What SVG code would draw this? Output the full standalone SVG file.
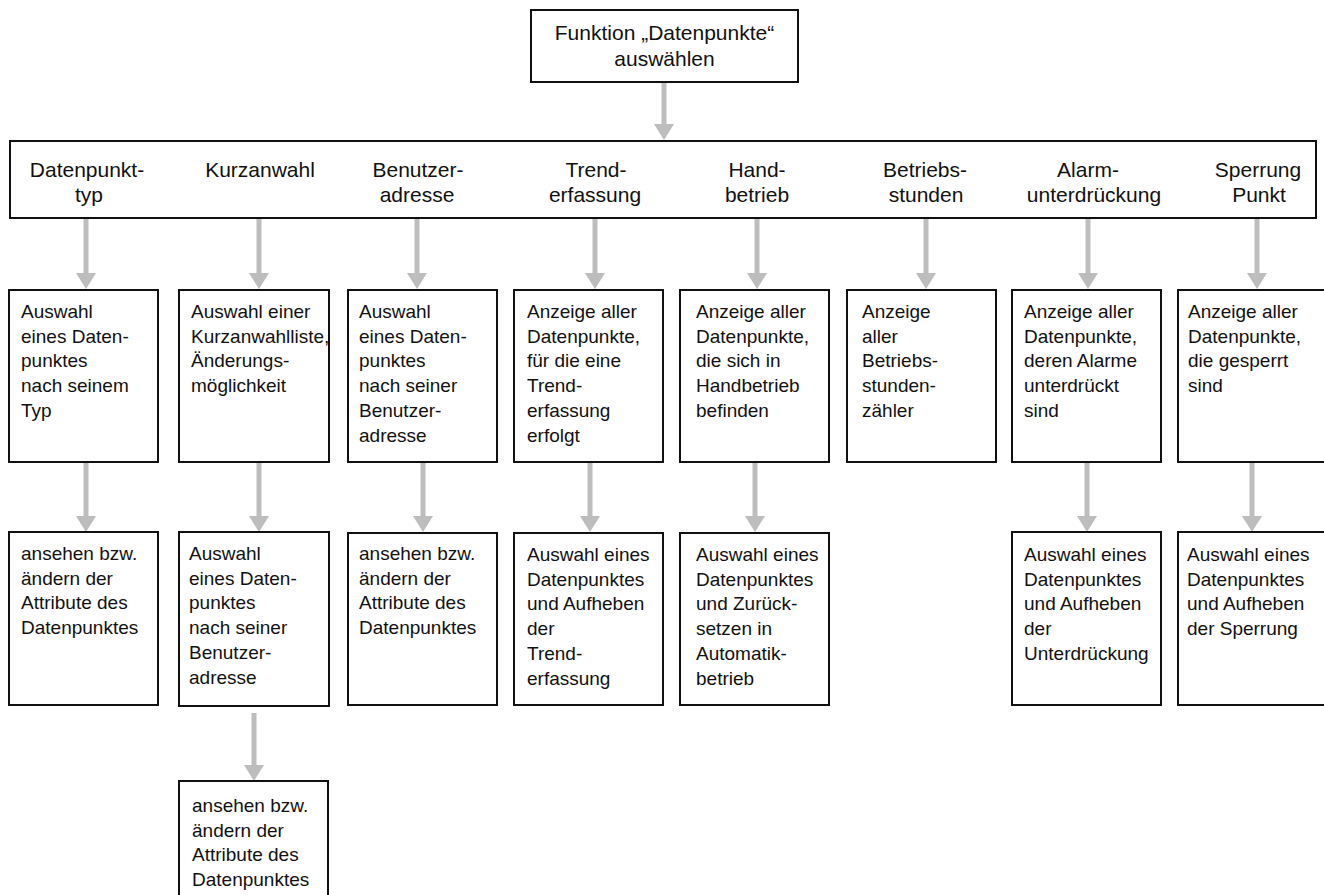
<svg xmlns="http://www.w3.org/2000/svg" width="1324" height="895" viewBox="0 0 1324 895">
<style>
  .box{fill:#fff;stroke:#111;stroke-width:2}
  .hd{font-family:"Liberation Sans",Arial,sans-serif;font-size:21px;fill:#111;text-anchor:middle}
  .tx{font-family:"Liberation Sans",Arial,sans-serif;font-size:19px;fill:#111}
  .arr{stroke:#bdbdbd;stroke-width:5;fill:none;marker-end:url(#ah)}
</style>
<defs>
  <marker id="ah" markerUnits="userSpaceOnUse" viewBox="0 0 16 20" markerWidth="16" markerHeight="20" refX="0" refY="10" orient="auto">
    <path d="M0,0 L16,10 L0,20 Z" fill="#bdbdbd"/>
  </marker>
</defs>
<rect width="1324" height="895" fill="#fff"/>

<g id="connectors">
  <line class="arr" x1="664" y1="82" x2="664" y2="124"/>
  <line class="arr" x1="86" y1="219" x2="86" y2="273"/>
  <line class="arr" x1="259" y1="219" x2="259" y2="273"/>
  <line class="arr" x1="417" y1="219" x2="417" y2="273"/>
  <line class="arr" x1="595" y1="219" x2="595" y2="273"/>
  <line class="arr" x1="757" y1="219" x2="757" y2="273"/>
  <line class="arr" x1="926" y1="219" x2="926" y2="273"/>
  <line class="arr" x1="1088" y1="219" x2="1088" y2="273"/>
  <line class="arr" x1="1257" y1="219" x2="1257" y2="273"/>
  <line class="arr" x1="86" y1="463" x2="86" y2="516"/>
  <line class="arr" x1="259" y1="463" x2="259" y2="516"/>
  <line class="arr" x1="423" y1="463" x2="423" y2="516"/>
  <line class="arr" x1="590" y1="463" x2="590" y2="516"/>
  <line class="arr" x1="755" y1="463" x2="755" y2="516"/>
  <line class="arr" x1="1087" y1="463" x2="1087" y2="516"/>
  <line class="arr" x1="1252" y1="463" x2="1252" y2="516"/>
  <line class="arr" x1="254" y1="713" x2="254" y2="765"/>
</g>

<g id="top">
  <rect class="box" x="531" y="10" width="267" height="72"/>
  <text class="hd"><tspan x="664.5" y="40">Funktion „Datenpunkte“</tspan><tspan x="664.5" y="66">auswählen</tspan></text>
</g>

<g id="menu">
  <rect class="box" x="10" y="141" width="1306" height="77"/>
  <text class="hd"><tspan x="87" y="177">Datenpunkt-</tspan><tspan x="89" y="202">typ</tspan></text>
  <text class="hd"><tspan x="260" y="177">Kurzanwahl</tspan></text>
  <text class="hd"><tspan x="418" y="177">Benutzer-</tspan><tspan x="417" y="202">adresse</tspan></text>
  <text class="hd"><tspan x="596" y="177">Trend-</tspan><tspan x="595" y="202">erfassung</tspan></text>
  <text class="hd"><tspan x="757" y="177">Hand-</tspan><tspan x="757" y="202">betrieb</tspan></text>
  <text class="hd"><tspan x="925" y="177">Betriebs-</tspan><tspan x="926" y="202">stunden</tspan></text>
  <text class="hd"><tspan x="1088" y="177">Alarm-</tspan><tspan x="1094" y="202">unterdrückung</tspan></text>
  <text class="hd"><tspan x="1258" y="177">Sperrung</tspan><tspan x="1259" y="202">Punkt</tspan></text>
</g>

<g id="r1c1">
  <rect class="box" x="9" y="290" width="149" height="172"/>
  <text class="tx"><tspan x="21" y="318">Auswahl</tspan><tspan x="21" dy="24.7">eines Daten-</tspan><tspan x="21" dy="24.7">punktes</tspan><tspan x="21" dy="24.7">nach seinem</tspan><tspan x="21" dy="24.7">Typ</tspan></text>
</g>
<g id="r1c2">
  <rect class="box" x="179" y="290" width="150" height="172"/>
  <text class="tx"><tspan x="191" y="318">Auswahl einer</tspan><tspan x="191" dy="24.7">Kurzanwahlliste,</tspan><tspan x="191" dy="24.7">Änderungs-</tspan><tspan x="191" dy="24.7">möglichkeit</tspan></text>
</g>
<g id="r1c3">
  <rect class="box" x="348" y="290" width="149" height="172"/>
  <text class="tx"><tspan x="359" y="318">Auswahl</tspan><tspan x="359" dy="24.7">eines Daten-</tspan><tspan x="359" dy="24.7">punktes</tspan><tspan x="359" dy="24.7">nach seiner</tspan><tspan x="359" dy="24.7">Benutzer-</tspan><tspan x="359" dy="24.7">adresse</tspan></text>
</g>
<g id="r1c4">
  <rect class="box" x="514" y="290" width="149" height="172"/>
  <text class="tx"><tspan x="527" y="318">Anzeige aller</tspan><tspan x="527" dy="24.7">Datenpunkte,</tspan><tspan x="527" dy="24.7">für die eine</tspan><tspan x="527" dy="24.7">Trend-</tspan><tspan x="527" dy="24.7">erfassung</tspan><tspan x="527" dy="24.7">erfolgt</tspan></text>
</g>
<g id="r1c5">
  <rect class="box" x="680" y="290" width="149" height="172"/>
  <text class="tx"><tspan x="696" y="318">Anzeige aller</tspan><tspan x="696" dy="24.7">Datenpunkte,</tspan><tspan x="696" dy="24.7">die sich in</tspan><tspan x="696" dy="24.7">Handbetrieb</tspan><tspan x="696" dy="24.7">befinden</tspan></text>
</g>
<g id="r1c6">
  <rect class="box" x="847" y="290" width="149" height="172"/>
  <text class="tx"><tspan x="862" y="318">Anzeige</tspan><tspan x="862" dy="24.7">aller</tspan><tspan x="862" dy="24.7">Betriebs-</tspan><tspan x="862" dy="24.7">stunden-</tspan><tspan x="862" dy="24.7">zähler</tspan></text>
</g>
<g id="r1c7">
  <rect class="box" x="1012" y="290" width="149" height="172"/>
  <text class="tx"><tspan x="1024" y="318">Anzeige aller</tspan><tspan x="1024" dy="24.7">Datenpunkte,</tspan><tspan x="1024" dy="24.7">deren Alarme</tspan><tspan x="1024" dy="24.7">unterdrückt</tspan><tspan x="1024" dy="24.7">sind</tspan></text>
</g>
<g id="r1c8">
  <rect class="box" x="1178" y="290" width="149" height="172"/>
  <text class="tx"><tspan x="1188" y="318">Anzeige aller</tspan><tspan x="1188" dy="24.7">Datenpunkte,</tspan><tspan x="1188" dy="24.7">die gesperrt</tspan><tspan x="1188" dy="24.7">sind</tspan></text>
</g>

<g id="r2c1">
  <rect class="box" x="9" y="532" width="149" height="173"/>
  <text class="tx"><tspan x="21" y="560">ansehen bzw.</tspan><tspan x="21" dy="24.7">ändern der</tspan><tspan x="21" dy="24.7">Attribute des</tspan><tspan x="21" dy="24.7">Datenpunktes</tspan></text>
</g>
<g id="r2c2">
  <rect class="box" x="179" y="532" width="150" height="174"/>
  <text class="tx"><tspan x="189" y="560">Auswahl</tspan><tspan x="189" dy="24.7">eines Daten-</tspan><tspan x="189" dy="24.7">punktes</tspan><tspan x="189" dy="24.7">nach seiner</tspan><tspan x="189" dy="24.7">Benutzer-</tspan><tspan x="189" dy="24.7">adresse</tspan></text>
</g>
<g id="r2c3">
  <rect class="box" x="348" y="533" width="149" height="172"/>
  <text class="tx"><tspan x="359" y="560">ansehen bzw.</tspan><tspan x="359" dy="24.7">ändern der</tspan><tspan x="359" dy="24.7">Attribute des</tspan><tspan x="359" dy="24.7">Datenpunktes</tspan></text>
</g>
<g id="r2c4">
  <rect class="box" x="514" y="533" width="149" height="172"/>
  <text class="tx"><tspan x="527" y="561">Auswahl eines</tspan><tspan x="527" dy="24.7">Datenpunktes</tspan><tspan x="527" dy="24.7">und Aufheben</tspan><tspan x="527" dy="24.7">der</tspan><tspan x="527" dy="24.7">Trend-</tspan><tspan x="527" dy="24.7">erfassung</tspan></text>
</g>
<g id="r2c5">
  <rect class="box" x="680" y="533" width="149" height="172"/>
  <text class="tx"><tspan x="696" y="561">Auswahl eines</tspan><tspan x="696" dy="24.7">Datenpunktes</tspan><tspan x="696" dy="24.7">und Zurück-</tspan><tspan x="696" dy="24.7">setzen in</tspan><tspan x="696" dy="24.7">Automatik-</tspan><tspan x="696" dy="24.7">betrieb</tspan></text>
</g>
<g id="r2c7">
  <rect class="box" x="1012" y="532" width="149" height="173"/>
  <text class="tx"><tspan x="1024" y="561">Auswahl eines</tspan><tspan x="1024" dy="24.7">Datenpunktes</tspan><tspan x="1024" dy="24.7">und Aufheben</tspan><tspan x="1024" dy="24.7">der</tspan><tspan x="1024" dy="24.7">Unterdrückung</tspan></text>
</g>
<g id="r2c8">
  <rect class="box" x="1178" y="532" width="149" height="173"/>
  <text class="tx"><tspan x="1187" y="561">Auswahl eines</tspan><tspan x="1187" dy="24.7">Datenpunktes</tspan><tspan x="1187" dy="24.7">und Aufheben</tspan><tspan x="1187" dy="24.7">der Sperrung</tspan></text>
</g>

<g id="r3c2">
  <rect class="box" x="179" y="781" width="149" height="130"/>
  <text class="tx"><tspan x="192" y="812">ansehen bzw.</tspan><tspan x="192" dy="24.7">ändern der</tspan><tspan x="192" dy="24.7">Attribute des</tspan><tspan x="192" dy="24.7">Datenpunktes</tspan></text>
</g>
</svg>
